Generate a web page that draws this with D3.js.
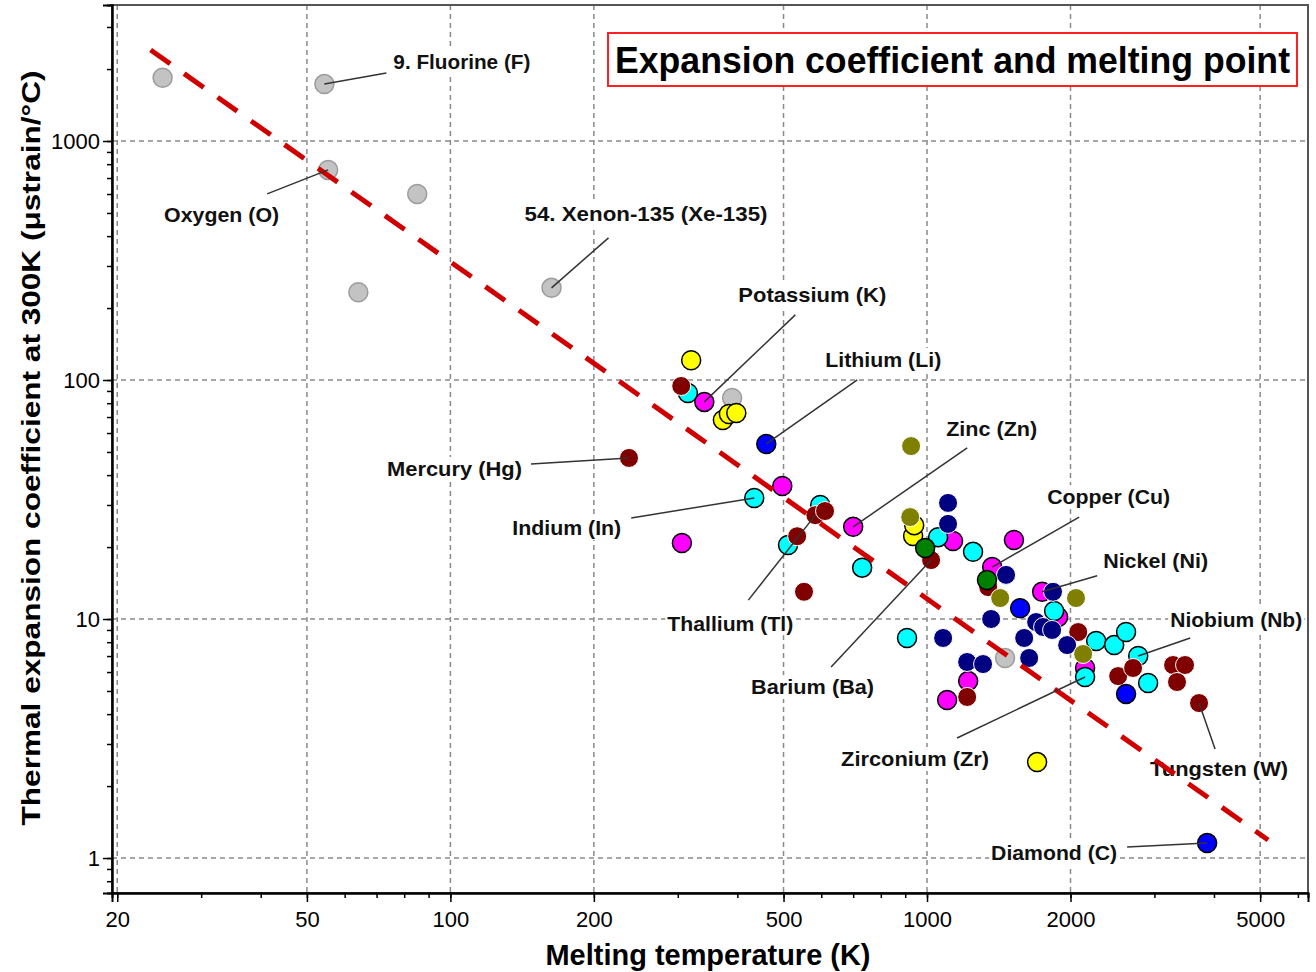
<!DOCTYPE html>
<html><head><meta charset="utf-8">
<script src="https://cdn.jsdelivr.net/npm/d3@7"></script>
<style>body{margin:0;background:#fff}svg{display:block}</style>
</head><body>
<svg id="chart" width="1316" height="972"></svg>
<script>
// ---------- data ----------
const xDomain = [19.5, 6300];
const yDomain = [0.714, 3707];
const xTickLabels = [20, 50, 100, 200, 500, 1000, 2000, 5000];
const yTickLabels = [1, 10, 100, 1000];
const trendT = [23.5, 5195];
const trendAlpha = [2404, 1.19];

const greyPts = [[24.9,1840],[54.4,1730],[55.4,757],[85.2,600],[64.1,233],[163,243],[390,84.1],[1458,6.87]];
const magentaPts = [[341,81],[306,20.8],[497,36.0],[700,24.3],[1134,21.2],[1522,21.4],[1370,16.5],[1744,13.0],[1220,5.5],[1102,4.58],[2146,6.24],[1884,10.2]];
const cyanPts = [[315,88.2],[434,32.1],[511,20.4],[597,30.0],[731,16.4],[1055,22.0],[1249,19.1],[908,8.33],[1848,10.8],[2264,8.09],[2470,7.78],[2616,8.82],[2774,7.0],[2910,5.4],[2146,5.72]];
const yellowPts = [[320,121],[373,68],[384,72.1],[398,72.8],[935,22.25],[940,24.7],[1702,2.52]];
const maroonPts = [[305,94.4],[237,47.2],[534,22.2],[583,27.2],[611,28.3],[552,13.0],[1020,17.65],[1344,13.6],[1214,4.72],[2076,8.82],[2518,5.77],[2706,6.24],[3283,6.42],[3478,6.42],[3346,5.45],[3722,4.45]];
const bluePts = [[460,54.0],[1568,11.1],[2616,4.86],[3870,1.155]];
const navyPts = [[1107,30.6],[1107,25.0],[1465,15.3],[1838,13.0],[1363,10.0],[1081,8.33],[1214,6.61],[1311,6.48],[1599,8.33],[1638,6.87],[1694,9.71],[1752,9.26],[1830,9.0],[1968,7.78]];
const olivePts = [[926,52.9],[922,26.7],[1424,12.24],[2054,12.24],[2126,7.14]];
const greenPts = [[991,19.8],[1336,14.56]];

const labelTexts = ["9. Fluorine (F)","Oxygen (O)","54. Xenon-135 (Xe-135)","Potassium (K)","Lithium (Li)","Zinc (Zn)","Mercury (Hg)","Indium (In)","Copper (Cu)","Nickel (Ni)","Niobium (Nb)","Thallium (Tl)","Barium (Ba)","Zirconium (Zr)","Tungsten (W)","Diamond (C)"];
const labelT = [54.4,55.4,163,341,460,700,237,434,1370,1744,2774,583,1020,2146,3722,3870];
const labelAlpha = [1730,757,243,81,54.0,24.3,47.2,32.1,16.5,13.0,7.0,27.2,17.65,5.72,4.45,1.155];

// ---------- layout / style ----------
const labelLayout = [ // [lineDx, lineDy, textDx, textDy, textWidth]
 [62,-11,69,-22,137],[-61,24,-164,45,115],[57,-50,-27,-74,243],[91,-87,34,-107,148],
 [91,-64,59,-84,116],[114,-79,93,-98,91],[-98,6,-242,11,135],[-123,20,-242,30,109],
 [87,-50,55,-70,123],[55,-16,61,-31,105],[52,-18,32,-36,132],[-67,85,-148,108,126],
 [-100,107,-180,127,123],[-128,61,-244,82,148],[16,46,-49,66,138],[-80,4,-216,10,126]
];
const groups = [
 {pts: greyPts, fill:"#c3c3c3", stroke:"#9c9c9c", sw:1.5},
 {pts: magentaPts, fill:"#ff00ff", stroke:"#000", sw:1.5},
 {pts: cyanPts, fill:"#00ffff", stroke:"#000", sw:1.5},
 {pts: yellowPts, fill:"#ffff00", stroke:"#000", sw:1.5},
 {pts: maroonPts, fill:"#800000", stroke:"#fff", sw:1},
 {pts: bluePts, fill:"#0000ff", stroke:"#000", sw:1.5},
 {pts: navyPts, fill:"#000080", stroke:"#fff", sw:1},
 {pts: olivePts, fill:"#808000", stroke:"#fff", sw:1},
 {pts: greenPts, fill:"#008000", stroke:"#000", sw:1.5}
];
const FONT = "'Liberation Sans', Arial, sans-serif";
const L = 112, R = 1308, T = 5, B = 893;

const svg = d3.select("#chart");
const x = d3.scaleLog().domain(xDomain).range([L, R]);
const y = d3.scaleLog().domain(yDomain).range([B, T]);

// grid
const grid = svg.append("g").attr("stroke", "#8a8a8a").attr("stroke-width", 1.5).attr("stroke-dasharray", "5,4");
grid.selectAll("line.v").data(xTickLabels).join("line")
  .attr("x1", d => x(d)).attr("x2", d => x(d)).attr("y1", T).attr("y2", B);
grid.selectAll("line.h").data(yTickLabels).join("line")
  .attr("y1", d => y(d)).attr("y2", d => y(d)).attr("x1", L).attr("x2", R);

// label text with white background (under points and trend line)
const labG = svg.append("g");
labelTexts.forEach((t, i) => {
  const px = x(labelT[i]), py = y(labelAlpha[i]);
  const [, , tdx, tdy, tw] = labelLayout[i];
  labG.append("rect").attr("x", px + tdx - 2).attr("y", py + tdy - 12).attr("width", tw + 4).attr("height", 24).attr("fill", "#fff");
  labG.append("text").attr("x", px + tdx).attr("y", py + tdy).attr("dy", "0.35em")
    .attr("font-family", FONT).attr("font-weight", "bold").attr("font-size", 21)
    .attr("textLength", tw).attr("lengthAdjust", "spacingAndGlyphs").attr("fill", "#111").text(t);
});

// frame
svg.append("rect").attr("x", L).attr("y", T).attr("width", R - L).attr("height", B - T)
  .attr("fill", "none").attr("stroke", "#555").attr("stroke-width", 2);

// axes
const xAxis = d3.axisBottom(x).tickValues(x.ticks()).tickSize(5).tickFormat("");
const gx = svg.append("g").attr("transform", `translate(0,${B})`).call(xAxis);
const xMajor = d3.axisBottom(x).tickValues(xTickLabels).tickSize(9).tickPadding(6).tickFormat(d3.format("d"));
const gx2 = svg.append("g").attr("transform", `translate(0,${B})`).call(xMajor);
const yAxis = d3.axisLeft(y).tickValues(y.ticks()).tickSize(5).tickFormat("");
const gy = svg.append("g").attr("transform", `translate(${L},0)`).call(yAxis);
const yMajor = d3.axisLeft(y).tickValues(yTickLabels).tickSize(9).tickPadding(3).tickFormat(d3.format("d"));
const gy2 = svg.append("g").attr("transform", `translate(${L},0)`).call(yMajor);
[gx, gx2, gy, gy2].forEach(g => {
  g.select(".domain").attr("stroke", "#000").attr("stroke-width", 2);
  g.selectAll(".tick line").attr("stroke", "#000").attr("stroke-width", 1.5);
  g.selectAll("text").attr("font-family", FONT).attr("font-size", 22).attr("fill", "#000");
});
gx2.selectAll("text").attr("dy", "0.85em");

// points
groups.forEach(g => {
  svg.append("g").selectAll("circle").data(g.pts).join("circle")
    .attr("cx", d => x(d[0])).attr("cy", d => y(d[1])).attr("r", 9.5)
    .attr("fill", g.fill).attr("stroke", g.stroke).attr("stroke-width", g.sw);
});

// trend line
svg.append("line")
  .attr("x1", x(trendT[0])).attr("y1", y(trendAlpha[0]))
  .attr("x2", x(trendT[1])).attr("y2", y(trendAlpha[1]))
  .attr("stroke", "#d00000").attr("stroke-width", 5).attr("stroke-dasharray", "24,17");

// leader lines
const ann = svg.append("g");
labelTexts.forEach((t, i) => {
  const px = x(labelT[i]), py = y(labelAlpha[i]);
  const [ldx, ldy] = labelLayout[i];
  ann.append("line").attr("x1", px).attr("y1", py).attr("x2", px + ldx).attr("y2", py + ldy)
    .attr("stroke", "#333").attr("stroke-width", 1.5);
});

// title box
svg.append("rect").attr("x", 608).attr("y", 33).attr("width", 689).attr("height", 53)
  .attr("fill", "#fff").attr("stroke", "#ff2020").attr("stroke-width", 2);
svg.append("text").attr("x", 615).attr("y", 60).attr("dy", "0.35em")
  .attr("font-family", FONT).attr("font-weight", "bold").attr("font-size", 37)
  .attr("textLength", 675).attr("lengthAdjust", "spacingAndGlyphs").text("Expansion coefficient and melting point");

// axis titles
svg.append("text").attr("x", 708).attr("y", 955).attr("dy", "0.35em").attr("text-anchor", "middle")
  .attr("font-family", FONT).attr("font-weight", "bold").attr("font-size", 29)
  .attr("textLength", 325).attr("lengthAdjust", "spacingAndGlyphs").text("Melting temperature (K)");
svg.append("text").attr("transform", "translate(31,448) rotate(-90)").attr("dy", "0.35em").attr("text-anchor", "middle")
  .attr("font-family", FONT).attr("font-weight", "bold").attr("font-size", 26)
  .attr("textLength", 755).attr("lengthAdjust", "spacingAndGlyphs").text("Thermal expansion coefficient at 300K (μstrain/°C)");
</script>
</body></html>
